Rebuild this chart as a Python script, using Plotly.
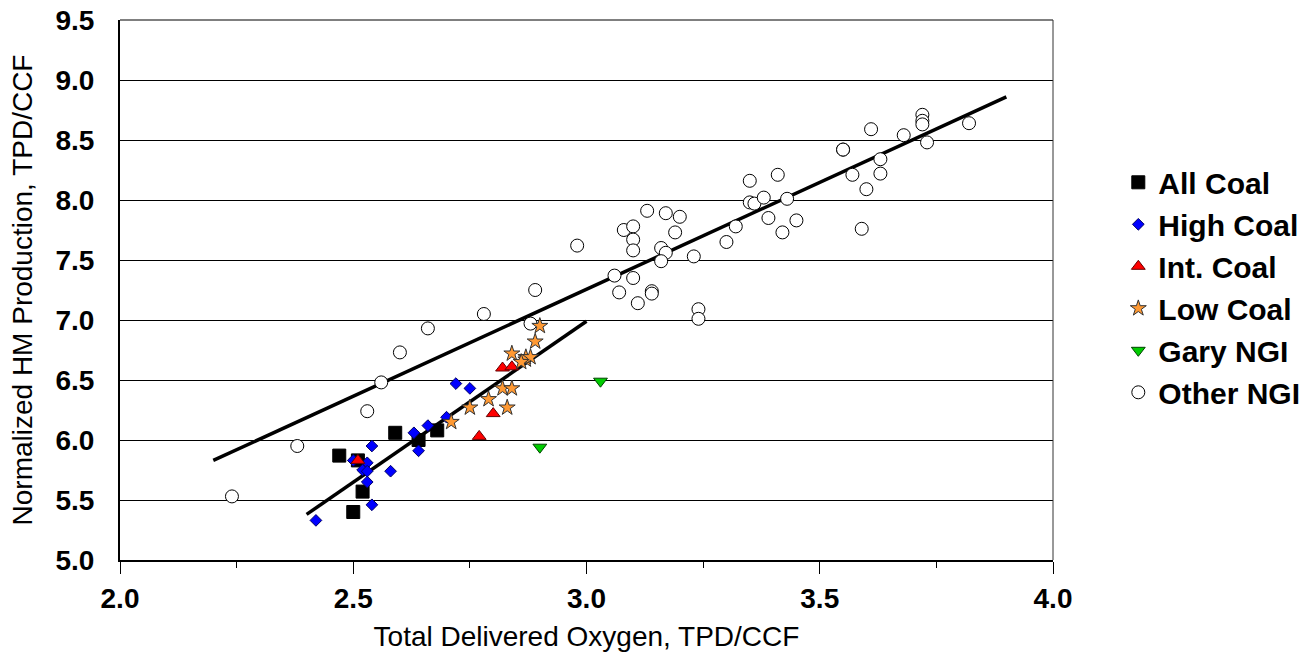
import plotly.graph_objects as go

# ---- data ----
all_coal_x = [2.59, 2.47, 2.64, 2.68, 2.52, 2.50, 2.51]
all_coal_y = [6.06, 5.87, 6.00, 6.08, 5.57, 5.40, 5.83]

high_coal_x = [2.54, 2.63, 2.66, 2.64, 2.50, 2.53, 2.52, 2.53, 2.58, 2.53, 2.54, 2.42, 2.72, 2.75, 2.70]
high_coal_y = [5.95, 6.06, 6.12, 5.91, 5.83, 5.81, 5.75, 5.74, 5.74, 5.65, 5.46, 5.33, 6.47, 6.43, 6.19]

int_coal_x = [2.51, 2.82, 2.84, 2.80, 2.77]
int_coal_y = [5.83, 6.60, 6.61, 6.22, 6.03]

low_coal_x = [2.90, 2.89, 2.84, 2.87, 2.87, 2.88, 2.86, 2.82, 2.84, 2.79, 2.75, 2.83, 2.71]
low_coal_y = [6.95, 6.82, 6.72, 6.67, 6.69, 6.69, 6.65, 6.43, 6.43, 6.34, 6.27, 6.27, 6.15]

gary_x = [3.03, 2.90]
gary_y = [6.49, 5.94]

other_x = [2.24, 2.38, 2.56, 2.53, 2.60, 2.66, 2.78, 2.88, 2.89, 2.98,
           3.13, 3.17, 3.20, 3.08, 3.10, 3.19, 3.10, 3.10, 3.16, 3.17,
           3.16, 3.23, 3.06, 3.10, 3.07, 3.14, 3.14, 3.11, 3.24, 3.24,
           3.30, 3.32, 3.35, 3.41, 3.35, 3.36, 3.38, 3.43, 3.39, 3.45,
           3.42, 3.55, 3.55, 3.57, 3.60, 3.59, 3.63, 3.63, 3.61, 3.68,
           3.72, 3.72, 3.72, 3.73, 3.82]
other_y = [5.53, 5.95, 6.48, 6.24, 6.73, 6.93, 7.05, 6.97, 7.25, 7.62,
           7.91, 7.89, 7.86, 7.75, 7.78, 7.73, 7.67, 7.58, 7.60, 7.56,
           7.49, 7.53, 7.37, 7.35, 7.23, 7.24, 7.22, 7.14, 7.09, 7.01,
           7.65, 7.78, 8.16, 8.21, 7.98, 7.97, 8.02, 8.01, 7.85, 7.83,
           7.73, 8.42, 8.42, 8.21, 8.09, 7.76, 8.34, 8.22, 8.59, 8.54,
           8.71, 8.66, 8.63, 8.48, 8.64]

ngi_fit_x = [2.2, 3.9]
ngi_fit_y = [5.83, 8.86]
coal_fit_x = [2.4, 3.0]
coal_fit_y = [5.38, 6.99]

x_ticks = [2.0, 2.5, 3.0, 3.5, 4.0]
x_ticklabels = ["2.0", "2.5", "3.0", "3.5", "4.0"]
x_minor_ticks = [2.25, 2.75, 3.25, 3.75]
y_ticks = [5.0, 5.5, 6.0, 6.5, 7.0, 7.5, 8.0, 8.5, 9.0, 9.5]
y_ticklabels = ["5.0", "5.5", "6.0", "6.5", "7.0", "7.5", "8.0", "8.5", "9.0", "9.5"]

FONT = "Liberation Sans, Arial, sans-serif"

fig = go.Figure()

# fit lines
fig.add_trace(go.Scatter(x=ngi_fit_x, y=ngi_fit_y, mode="lines",
                         line=dict(color="black", width=3.5), showlegend=False, hoverinfo="skip"))
fig.add_trace(go.Scatter(x=coal_fit_x, y=coal_fit_y, mode="lines",
                         line=dict(color="black", width=3.5), showlegend=False, hoverinfo="skip"))

series = [
    ("Other NGI", other_x, other_y, "circle", "white", 13, "black"),
    ("All Coal", all_coal_x, all_coal_y, "square", "black", 13, "black"),
    ("High Coal", high_coal_x, high_coal_y, "diamond", "#0000FF", 9, "#000066"),
    ("Int. Coal", int_coal_x, int_coal_y, "triangle-up", "#FF0000", 12, "#660000"),
    ("Low Coal", low_coal_x, low_coal_y, "star", "#FF9933", 12, "#333333"),
    ("Gary NGI", gary_x, gary_y, "triangle-down", "#00CC00", 12, "#004400"),
]
rank = {"All Coal": 1, "High Coal": 2, "Int. Coal": 3, "Low Coal": 4, "Gary NGI": 5, "Other NGI": 6}
for name, xs, ys, sym, col, sz, lc in series:
    fig.add_trace(go.Scatter(
        x=xs, y=ys, mode="markers", name=name, legendgroup=name,
        legendrank=rank[name],
        marker=dict(symbol=sym, color=col, size=sz, line=dict(color=lc, width=1)),
    ))

# top and right border
fig.add_shape(type="line", xref="paper", yref="paper", x0=0, x1=1, y0=1, y1=1,
              line=dict(color="black", width=1))
fig.add_shape(type="line", xref="paper", yref="paper", x0=1, x1=1, y0=0, y1=1,
              line=dict(color="#333333", width=1))

fig.update_layout(
    width=1313, height=667,
    margin=dict(l=120, r=260, t=20, b=107, autoexpand=False),
    paper_bgcolor="white", plot_bgcolor="white",
    font=dict(family=FONT, color="black"),
    showlegend=True,
    legend=dict(
        x=1.07, xanchor="left", y=0.505, yanchor="middle",
        font=dict(family=FONT, size=30, color="black", weight="bold"),
        traceorder="grouped", tracegroupgap=0,
        bgcolor="rgba(0,0,0,0)", itemwidth=30,
    ),
    xaxis=dict(
        range=[2.0, 4.0], tickmode="array", tickvals=x_ticks, ticktext=x_ticklabels,
        ticks="outside", ticklen=12, tickwidth=1, tickcolor="black",
        minor=dict(tickmode="array", tickvals=x_minor_ticks, ticks="outside",
                   ticklen=6, tickcolor="black", showgrid=False),
        showline=True, linecolor="black", linewidth=2,
        showgrid=False, zeroline=False, automargin=False,
        tickfont=dict(family=FONT, size=28, weight="bold"),
        title=dict(text="Total Delivered Oxygen, TPD/CCF", font=dict(family=FONT, size=28), standoff=14),
    ),
    yaxis=dict(
        range=[5.0, 9.5], tickmode="array", tickvals=y_ticks, ticktext=y_ticklabels,
        ticks="outside", ticklen=18, tickcolor="rgba(0,0,0,0)",
        showline=True, linecolor="black", linewidth=2,
        showgrid=True, gridcolor="black", gridwidth=1, zeroline=False, automargin=False,
        tickfont=dict(family=FONT, size=28, weight="bold"),
        title=dict(text="Normalized HM Production, TPD/CCF", font=dict(family=FONT, size=28), standoff=15),
    ),
)

fig.write_html("out.html")
